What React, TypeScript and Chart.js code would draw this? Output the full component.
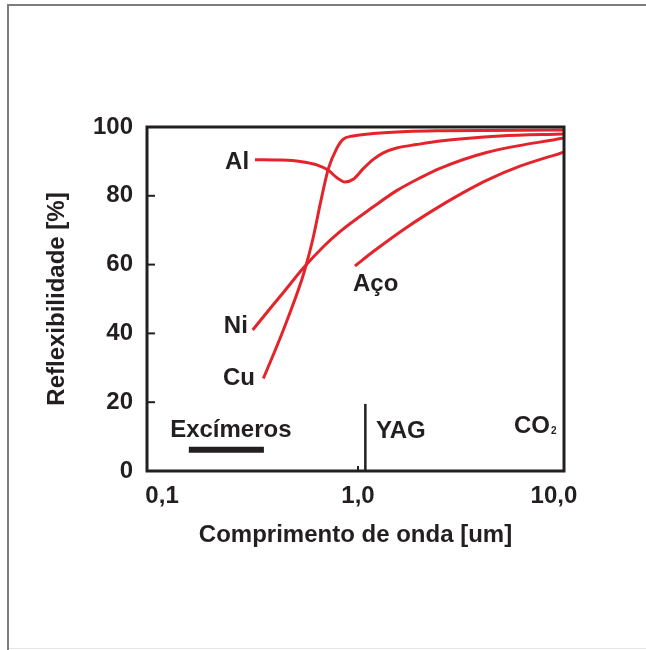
import React, { useEffect, useRef } from "react";
import { Chart, registerables } from "chart.js";

Chart.register(...registerables);

// ---- data (wavelength in µm, reflectivity in %) ----
const alX = [0.298, 0.4, 0.506, 0.616, 0.706, 0.778, 0.858, 0.946, 1.064, 1.197, 1.346, 1.576, 1.993, 2.62, 5.3, 11.25];
const alY = [90.5, 90.4, 90.0, 89.0, 87.4, 85.3, 84.0, 84.8, 87.9, 90.6, 92.5, 93.9, 94.9, 95.9, 97.4, 98.0];

const cuX = [0.329, 0.416, 0.516, 0.547, 0.592, 0.648, 0.706, 0.778, 0.838, 0.943, 1.193, 1.78, 2.62, 11.25];
const cuY = [26.9, 41.0, 55.5, 60.4, 68.1, 78.8, 87.9, 93.7, 96.4, 97.4, 98.1, 98.7, 98.9, 99.1];

const niX = [0.29, 0.37, 0.416, 0.526, 0.665, 0.809, 1.197, 1.575, 2.07, 2.62, 4.53, 11.25];
const niY = [41.0, 48.4, 51.9, 59.0, 65.2, 69.6, 76.8, 81.5, 85.2, 88.0, 92.6, 96.8];

const acoX = [0.965, 1.197, 1.77, 2.62, 3.73, 4.53, 6.71, 11.25];
const acoY = [59.6, 63.8, 70.8, 77.0, 82.0, 84.5, 88.6, 92.7];

const excimerX = [0.137, 0.331];
const excimerY = [6.2, 6.2];
const yagX = [1.09, 1.09];
const yagY = [0, 19.5];

const xTickVals = [0.1, 1, 10];
const xTickLabels = ["0,1", "1,0", "10,0"];
const yTickVals = [0, 20, 40, 60, 80, 100];
const xInnerTicks = [1];

const xMin = 0.0838;
const xMax = 11.25;

// text annotations: text, x value, y value, align
const annText = ["Al", "Ni", "Cu", "Aço", "Excímeros", "YAG", "CO"];
const annX = [0.278, 0.274, 0.298, 0.943, 0.11, 1.235, 6.25];
const annY = [90.4, 42.7, 27.6, 54.7, 12.5, 12.2, 13.6];
const annAlign = ["right", "right", "right", "left", "left", "left", "left"];
const subText = "2";

const RED = "#e3242b";
const INK = "#231f20";
const FONT = '"Liberation Sans", Arial, Helvetica, sans-serif';

const pts = (xs: number[], ys: number[]) => xs.map((x, i) => ({ x, y: ys[i] }));

const overlay = {
  id: "overlay",
  beforeDraw(chart: any) {
    const ctx = chart.ctx;
    ctx.save();
    ctx.fillStyle = "#ffffff";
    ctx.fillRect(0, 0, chart.width, chart.height);
    ctx.fillStyle = "#7d7d7d";
    ctx.fillRect(7, 4, 2, chart.height - 4);
    ctx.fillRect(7, 4, chart.width - 7, 2);
    ctx.fillStyle = "#e6e6e6";
    ctx.fillRect(9, chart.height - 2, chart.width - 9, 1);
    ctx.restore();
  },
  afterDatasetsDraw(chart: any) {
    const { ctx, chartArea: a } = chart;
    const xs = chart.scales.x;
    const ys = chart.scales.y;
    ctx.save();
    ctx.strokeStyle = INK;
    ctx.lineWidth = 3;
    ctx.strokeRect(a.left, a.top, a.right - a.left, a.bottom - a.top);
    ctx.lineWidth = 2;
    yTickVals.forEach((v) => {
      const py = ys.getPixelForValue(v);
      ctx.beginPath();
      ctx.moveTo(a.left, py);
      ctx.lineTo(a.left + 8, py);
      ctx.stroke();
    });
    xInnerTicks.forEach((v) => {
      const px = xs.getPixelForValue(v);
      ctx.beginPath();
      ctx.moveTo(px, a.bottom);
      ctx.lineTo(px, a.bottom - 5);
      ctx.stroke();
    });
    ctx.fillStyle = INK;
    ctx.font = `bold 24px ${FONT}`;
    ctx.textBaseline = "alphabetic";
    let coEnd = 0;
    let coBase = 0;
    annText.forEach((t, i) => {
      const px = xs.getPixelForValue(annX[i]);
      const py = ys.getPixelForValue(annY[i]) + 8.6;
      ctx.textAlign = annAlign[i];
      ctx.fillText(t, px, py);
      if (t === "CO") {
        coEnd = px + ctx.measureText(t).width;
        coBase = py;
      }
    });
    ctx.font = `bold 10px ${FONT}`;
    ctx.textAlign = "left";
    ctx.fillText(subText, coEnd + 1, coBase + 1);
    ctx.restore();
  },
};

export default function App() {
  const ref = useRef<HTMLCanvasElement>(null);
  useEffect(() => {
    if (!ref.current) return;
    const line = (xs: number[], ys: number[], color: string, w: number) => ({
      data: pts(xs, ys),
      borderColor: color,
      backgroundColor: color,
      borderWidth: w,
      pointRadius: 0,
      fill: false,
      cubicInterpolationMode: "monotone" as const,
      borderCapStyle: "butt" as const,
    });
    const font = { family: FONT, size: 24, weight: "bold" as const };
    const chart = new Chart(ref.current, {
      type: "line",
      data: {
        datasets: [
          line(alX, alY, RED, 3),
          line(cuX, cuY, RED, 3),
          line(niX, niY, RED, 3),
          line(acoX, acoY, RED, 3),
          line(excimerX, excimerY, INK, 6),
          line(yagX, yagY, INK, 2.5),
        ],
      },
      options: {
        responsive: false,
        animation: false,
        devicePixelRatio: 1,
        layout: { padding: { top: 127, right: 82, left: 0, bottom: 0 } },
        plugins: { legend: { display: false }, tooltip: { enabled: false } },
        scales: {
          x: {
            type: "logarithmic",
            min: xMin,
            max: xMax,
            afterBuildTicks: (s: any) => {
              s.ticks = xTickVals.map((v) => ({ value: v }));
            },
            afterFit: (s: any) => {
              s.height = 179;
            },
            grid: { display: false, drawTicks: false },
            border: { display: false },
            ticks: {
              autoSkip: false,
              maxRotation: 0,
              padding: 11,
              color: INK,
              font,
              callback: (_v: any, i: number) => xTickLabels[i],
            },
            title: {
              display: true,
              text: "Comprimento de onda [um]",
              color: INK,
              font,
              padding: { top: 0, bottom: 100 },
            },
          },
          y: {
            min: 0,
            max: 100,
            afterBuildTicks: (s: any) => {
              s.ticks = yTickVals.map((v) => ({ value: v }));
            },
            afterFit: (s: any) => {
              s.width = 147;
            },
            grid: { display: false, drawTicks: false },
            border: { display: false },
            ticks: { padding: 14, color: INK, font },
            title: {
              display: true,
              text: "Reflexibilidade [%]",
              color: INK,
              font,
              padding: { top: 43, bottom: 0 },
            },
          },
        },
      },
      plugins: [overlay],
    });
    return () => chart.destroy();
  }, []);
  return (
    <div style={{ position: "absolute", left: 0, top: 0, width: 646, height: 650 }}>
      <canvas ref={ref} width={646} height={650} style={{ display: "block" }} />
    </div>
  );
}
